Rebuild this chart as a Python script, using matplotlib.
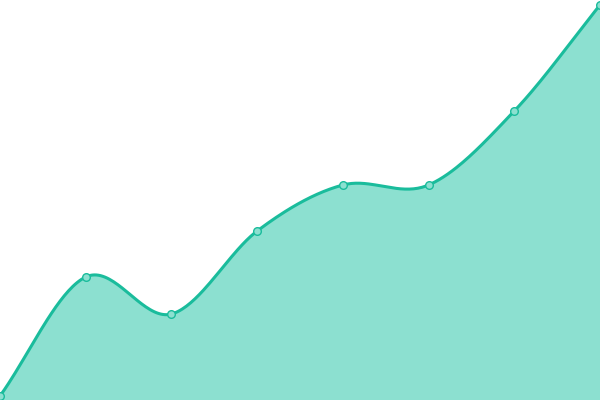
import numpy as np
import matplotlib
matplotlib.use("Agg")
import matplotlib.pyplot as plt

# values (pixel scale, 0 = bottom)
x_pos = [0, 1, 2, 3, 4, 5, 6, 7]
values = [4, 123, 86, 169, 215, 215, 289, 395]

line_col = '#1abc9c'
fill_col = '#8ce0d0'


def catmull(xs, ys, steps=40):
	xs = np.asarray(xs, float)
	ys = np.asarray(ys, float)
	n = len(xs)
	m = np.zeros(n)
	for i in range(n):
		if i == 0:
			m[i] = ys[1] - ys[0]
		elif i == n - 1:
			m[i] = ys[-1] - ys[-2]
		else:
			m[i] = (ys[i+1] - ys[i-1]) / 2
	sx, sy = [], []
	for i in range(n - 1):
		t = np.linspace(0, 1, steps, endpoint=(i == n - 2))
		h00 = 2*t**3 - 3*t**2 + 1
		h10 = t**3 - 2*t**2 + t
		h01 = -2*t**3 + 3*t**2
		h11 = t**3 - t**2
		sx.append(xs[i] + t)
		sy.append(h00*ys[i] + h10*m[i] + h01*ys[i+1] + h11*m[i+1])
	return np.concatenate(sx), np.concatenate(sy)


fig = plt.figure(figsize=(6, 4), dpi=100)
ax = fig.add_axes([0, 0, 1, 1])
sx, sy = catmull(x_pos, values)
ax.fill_between(sx, sy, 0, color=fill_col, lw=0)
ax.plot(sx, sy, color=line_col, lw=2.2, solid_capstyle='round')
ax.plot(x_pos, values, 'o', ms=5.5, mfc=fill_col, mec=line_col, mew=1)
ax.set_xlim(0, 7)
ax.set_ylim(0, 400)
ax.axis('off')
fig.savefig('out.png', dpi=100)
